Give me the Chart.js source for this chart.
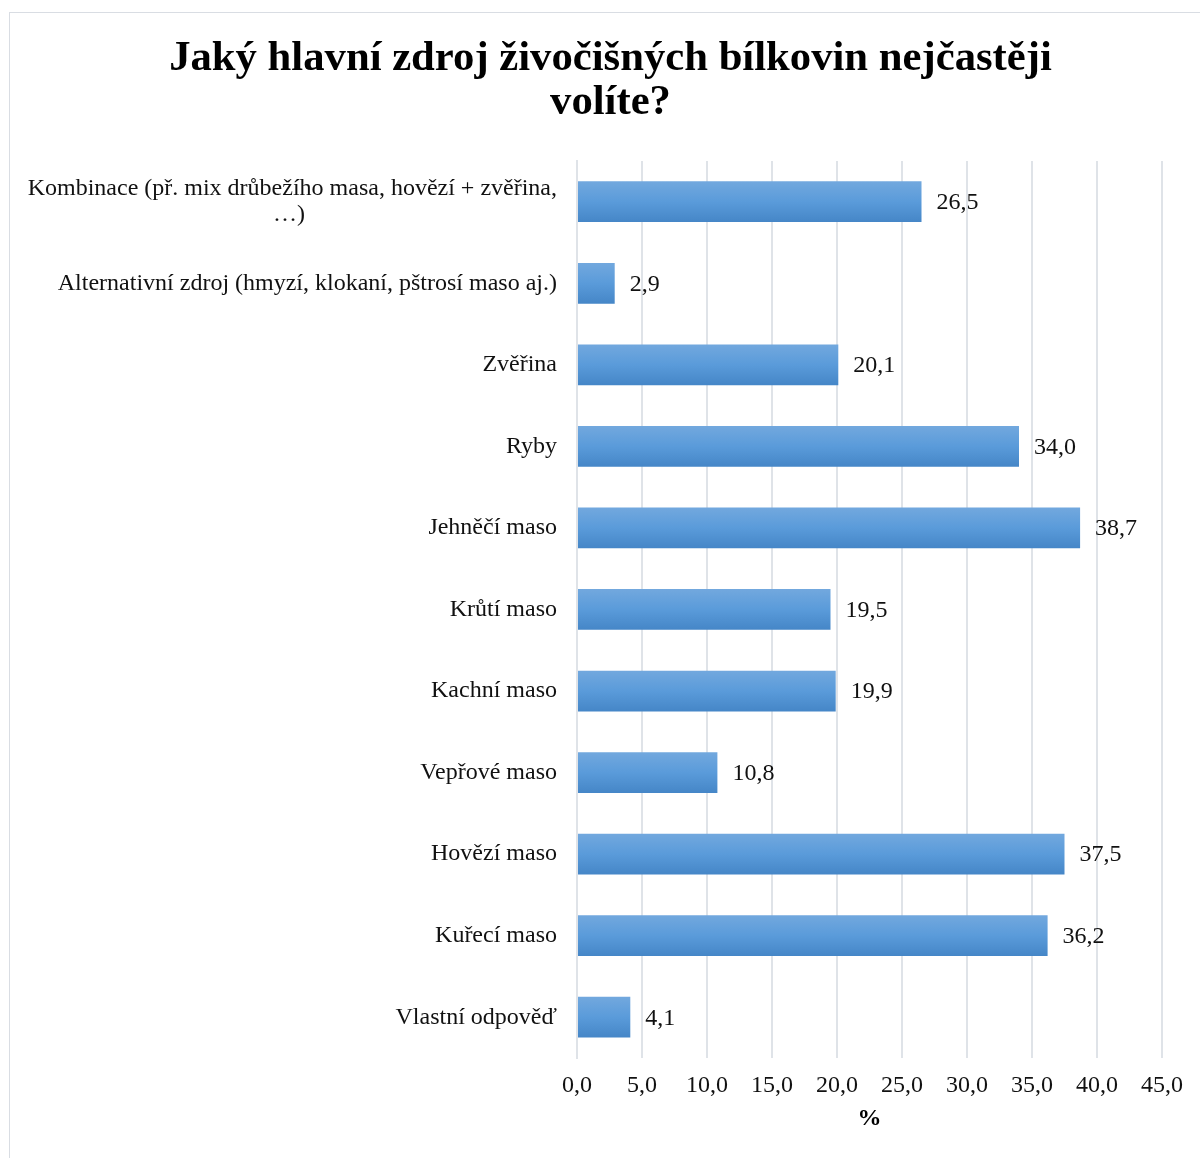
<!DOCTYPE html>
<html>
<head>
<meta charset="utf-8">
<script src="https://cdn.jsdelivr.net/npm/chart.js@4.4.1/dist/chart.umd.min.js"></script>
<style>
  html, body { margin: 0; padding: 0; background: #fff; overflow: hidden; }
  #box { position: absolute; left: 9px; top: 12px; width: 1203px; height: 1160px;
         border: 1px solid #d9dde3; box-sizing: border-box; background: #fff; }
  #wrap { position: absolute; left: 0; top: 0; width: 1201px; height: 1158px; }
</style>
</head>
<body>
<div id="box"><div id="wrap"><canvas id="c"></canvas></div></div>
<script>
const titleLines = ["Jaký hlavní zdroj živočišných bílkovin nejčastěji", "volíte?"];
const categories = [
  ["Kombinace (př. mix drůbežího masa, hovězí + zvěřina,", "…)"],
  "Alternativní zdroj (hmyzí, klokaní, pštrosí maso aj.)",
  "Zvěřina",
  "Ryby",
  "Jehněčí maso",
  "Krůtí maso",
  "Kachní maso",
  "Vepřové maso",
  "Hovězí maso",
  "Kuřecí maso",
  "Vlastní odpověď"
];
const values = [26.5, 2.9, 20.1, 34.0, 38.7, 19.5, 19.9, 10.8, 37.5, 36.2, 4.1];
const axisTitle = "%";
const xMin = 0, xMax = 45, xStep = 5;

const FONT = "'Liberation Serif', 'Times New Roman', serif";
const fmt = v => Number(v).toFixed(1).replace('.', ',');

const gradientBars = {
  id: 'gradientBars',
  beforeDatasetsDraw(chart) {
    const meta = chart.getDatasetMeta(0);
    meta.data.forEach(bar => {
      const half = bar.height / 2;
      if (!isFinite(bar.y) || !isFinite(half)) return;
      const g = chart.ctx.createLinearGradient(0, bar.y - half, 0, bar.y + half);
      g.addColorStop(0, '#72A8DE');
      g.addColorStop(0.5, '#5A9BDA');
      g.addColorStop(1, '#4586C7');
      bar.options = Object.assign({}, bar.options, { backgroundColor: g });
    });
  }
};

const valueLabels = {
  id: 'valueLabels',
  afterDatasetsDraw(chart) {
    const c = chart.ctx;
    const meta = chart.getDatasetMeta(0);
    c.save();
    c.font = "24px " + FONT;
    c.fillStyle = '#111';
    c.textAlign = 'left';
    c.textBaseline = 'middle';
    meta.data.forEach((bar, i) => {
      c.fillText(fmt(values[i]), bar.x + 15, bar.y + 1);
    });
    c.restore();
  }
};

const labelsForAxis = categories.map(l => {
  if (Array.isArray(l)) {
    return [l[0], l[1] + '\u2003'.repeat(10) + '\u2002'];
  }
  return l;
});

new Chart(document.getElementById('c'), {
  type: 'bar',
  data: {
    labels: labelsForAxis,
    datasets: [{
      data: values,
      backgroundColor: () => '#5B9BD5',
      borderWidth: 0,
      categoryPercentage: 1.0,
      barPercentage: 0.5
    }]
  },
  options: {
    indexAxis: 'y',
    responsive: true,
    maintainAspectRatio: false,
    animation: false,
    layout: { padding: { left: 0, right: 0, top: 0, bottom: 38 } },
    plugins: {
      legend: { display: false },
      tooltip: { enabled: false },
      title: {
        display: true,
        text: titleLines,
        color: '#000',
        font: { family: FONT, size: 42.7, weight: 'bold', lineHeight: 1.03 },
        padding: { top: 24, bottom: 36 }
      }
    },
    scales: {
      x: {
        min: xMin, max: xMax,
        afterFit(scale) { scale.height = 75; },
        ticks: {
          stepSize: xStep,
          color: '#111',
          font: { family: FONT, size: 24 },
          padding: 13,
          callback: v => fmt(v)
        },
        grid: { color: '#dfe3e8', lineWidth: 2, drawTicks: false },
        border: { display: false },
        title: {
          display: true,
          text: axisTitle,
          color: '#000',
          font: { family: FONT, size: 24, weight: 'bold' },
          padding: { top: 6, bottom: 0 }
        }
      },
      y: {
        afterFit(scale) { scale.width = 567; },
        ticks: {
          color: '#111',
          font: { family: FONT, size: 24, lineHeight: 1.1 },
          padding: 20,
          autoSkip: false
        },
        grid: { display: false, drawTicks: false },
        border: { display: true, color: '#dfe3e8', width: 2 }
      },
      yRight: {
        type: 'category',
        axis: 'y',
        position: 'right',
        display: true,
        afterFit(scale) { scale.width = 49; },
        ticks: { display: false },
        grid: { display: false, drawTicks: false },
        border: { display: false }
      }
    }
  },
  plugins: [gradientBars, valueLabels]
});
</script>
</body>
</html>
